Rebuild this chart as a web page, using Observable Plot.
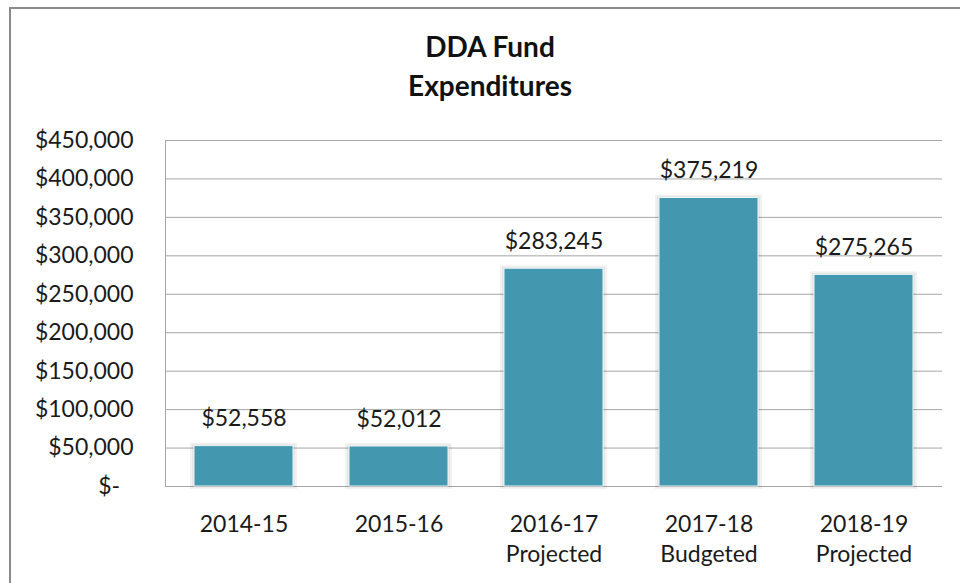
<!DOCTYPE html>
<html>
<head>
<meta charset="utf-8">
<script src="https://cdn.jsdelivr.net/npm/d3@7"></script>
<script src="https://cdn.jsdelivr.net/npm/@observablehq/plot@0.6"></script>
<style>
  html, body { margin: 0; padding: 0; background: #fff; overflow: hidden; }
  #wrap { position: relative; width: 960px; height: 583px; overflow: hidden; background: #fff; }
  #border { position: absolute; left: 9px; top: 7px; width: 1000px; height: 700px;
            border-top: 2px solid #8a8a8a; border-left: 2px solid #8a8a8a; }
  #title { position: absolute; left: 290px; top: 27px; width: 400px; text-align: center;
           font-family: Lato, "Open Sans", sans-serif; font-weight: bold; font-size: 28px;
           line-height: 39px; color: #111; }
  #chart { position: absolute; left: 0; top: 0; }
</style>
</head>
<body>
<div id="wrap">
  <div id="border"></div>
  <div id="chart"></div>
  <div id="title">DDA Fund<br>Expenditures</div>
</div>
<script>
const categories = ["2014-15", "2015-16", "2016-17", "2017-18", "2018-19"];
const subLabels = ["", "", "Projected", "Budgeted", "Projected"];
const values = [52558, 52012, 283245, 375219, 275265];
const yTicks = [0, 50000, 100000, 150000, 200000, 250000, 300000, 350000, 400000, 450000];

const data = categories.map((c, i) => ({ category: c, sub: subLabels[i], value: values[i] }));
const money = d3.format(",");

const chart = Plot.plot({
  width: 960,
  height: 583,
  marginLeft: 165,
  marginRight: 18,
  marginTop: 140,
  marginBottom: 97,
  style: { fontFamily: "Lato, 'Open Sans', sans-serif", background: "transparent", color: "#1a1a1a" },
  x: { domain: categories, paddingInner: 0.36, paddingOuter: 0.18, label: null },
  y: { domain: [0, 450000], label: null },
  marks: [
    Plot.ruleY(yTicks, { stroke: "#a6a6a6", strokeWidth: 1 }),
    Plot.frame({ anchor: "left", stroke: "#a6a6a6" }),
    Plot.barY(data, { x: "category", y: "value", fill: "#000", fillOpacity: 0.05,
      insetLeft: -4, insetRight: -4, insetTop: -3, insetBottom: -3 }),
    Plot.barY(data, { x: "category", y: "value", fill: "#000", fillOpacity: 0.05,
      insetLeft: -2, insetRight: -2, insetTop: -1.5, insetBottom: -1.5 }),
    Plot.barY(data, { x: "category", y: "value", fill: "#4398B0", stroke: "#eef6f8", strokeWidth: 1 }),
    Plot.text(data, { x: "category", y: "value", text: d => "$" + money(d.value),
      dy: -27, fontSize: 23, fill: "#1a1a1a" }),
    Plot.axisY({ ticks: yTicks, tickSize: 0, tickPadding: 32, fontSize: 23, fill: "#1a1a1a",
      tickFormat: d => d === 0 ? "$-\u2007" : "$" + money(d), label: null }),
    Plot.axisX({ tickSize: 0, tickPadding: 24, fontSize: 23, lineHeight: 1.3, fill: "#1a1a1a",
      tickFormat: d => { const s = subLabels[categories.indexOf(d)]; return s ? d + "\n" + s : d; },
      label: null })
  ]
});
document.getElementById("chart").appendChild(chart);
</script>
</body>
</html>
